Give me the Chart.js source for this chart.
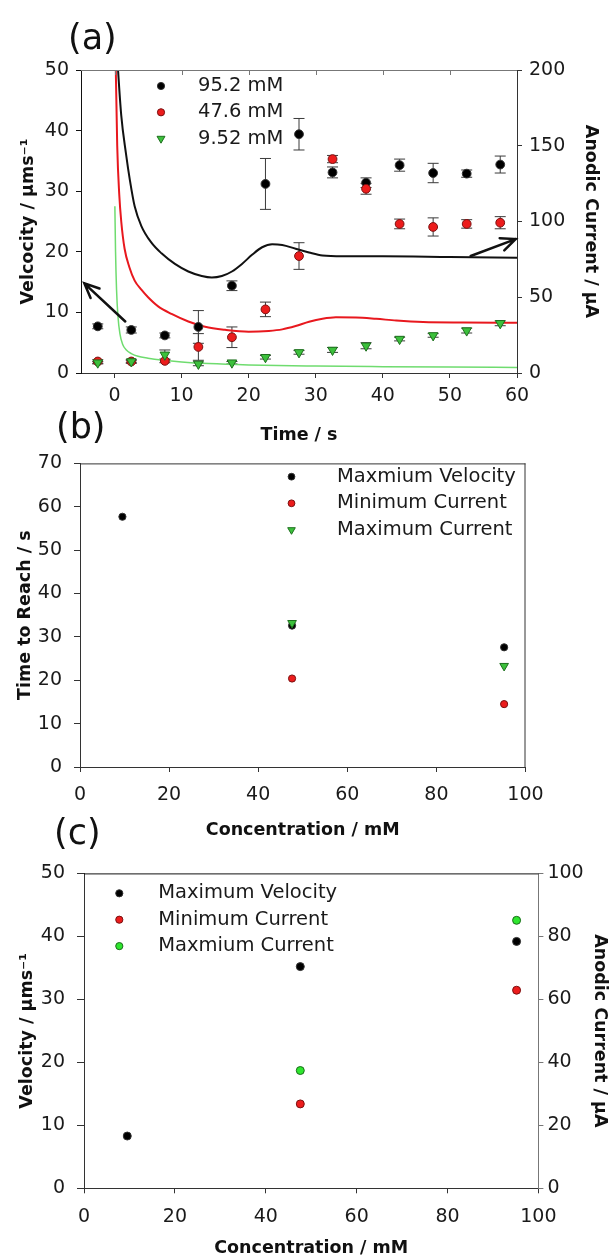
<!DOCTYPE html>
<html>
<head>
<meta charset="utf-8">
<script src="https://cdn.jsdelivr.net/npm/chart.js@4.4.1/dist/chart.umd.min.js"></script>
<style>
  body { margin: 0; background: #fff; }
  #page { position: relative; width: 613px; height: 1259px; overflow: hidden; }
  canvas { position: absolute; left: 0; }
  .tag { position: absolute; font-family: 'DejaVu Sans', sans-serif; font-size: 35px; line-height: 1; color: #111; z-index: 5; }
</style>
</head>
<body>
<div id="page">
  <canvas id="chartA" width="613" height="450" style="top:0px"></canvas>
  <canvas id="chartB" width="613" height="410" style="top:440px"></canvas>
  <canvas id="chartC" width="613" height="409" style="top:850px"></canvas>
  <div class="tag" style="left:68px; top:20px">(a)</div>
  <div class="tag" style="left:56px; top:409px">(b)</div>
  <div class="tag" style="left:54px; top:815px">(c)</div>
</div>
<script>
// ---- (a) velocity vs time, with error bars
const timeA = [-2.5, 2.5, 7.5, 12.5, 17.5, 22.5, 27.5, 32.5, 37.5, 42.5, 47.5, 52.5, 57.5];
const vel95 = [7.7, 7.1, 6.2, 7.6, 14.4, 31.2, 39.4, 33.1, 31.4, 34.3, 33.0, 32.9, 34.4];
const err95 = [0.4, 0.5, 0.4, 2.7, 0.8, 4.2, 2.6, 0.9, 0.8, 1.0, 1.6, 0.6, 1.4];
const vel47 = [1.9, 1.9, 2.0, 4.3, 5.9, 10.5, 19.3, 35.3, 30.4, 24.6, 24.1, 24.6, 24.8];
const err47 = [0.3, 0.3, 0.3, 2.2, 1.7, 1.2, 2.2, 0.6, 0.9, 0.8, 1.5, 0.7, 1.0];
const vel9 = [1.7, 1.9, 3.0, 1.5, 1.7, 2.6, 3.4, 3.8, 4.5, 5.6, 6.2, 7.0, 8.2];
const err9 = [0.2, 0.2, 0.8, 0.3, 0.2, 0.3, 0.3, 0.4, 0.5, 0.3, 0.3, 0.4, 0.4];

// (a) anodic current traces (right axis)
const curT95 = [0.3, 1.0, 1.7, 2.3, 3.0, 4.0, 5.5, 7.0, 9.0, 11.0, 13.0, 14.5, 16.0, 17.5, 19.0, 20.5, 22.0, 23.5, 25.0, 27.0, 29.0, 31.0, 34.0, 40.0, 50.0, 60.0];
const cur95 = [215, 170, 145, 127, 110, 97, 86, 79, 72, 67, 64, 63, 64, 67, 72, 78, 83, 85, 84.5, 82, 79.5, 77.5, 77, 77, 76.5, 76];
const curT47 = [0.15, 0.4, 0.7, 1.0, 1.5, 2.2, 3.0, 4.0, 5.0, 6.5, 8.5, 11.0, 13.5, 16.5, 20.0, 23.0, 25.0, 27.0, 29.0, 31.0, 33.0, 36.0, 39.0, 42.0, 46.0, 52.0, 60.0];
const cur47 = [210, 150, 118, 100, 82, 70, 61, 55, 50, 44, 39, 34, 30.5, 28.5, 27.3, 27.8, 28.8, 31, 33.8, 35.8, 36.8, 36.7, 35.8, 34.6, 33.6, 33.3, 33.2];
const curT9 = [0.05, 0.15, 0.3, 0.5, 0.8, 1.2, 1.8, 2.5, 3.5, 5, 7, 10, 14, 20, 30, 40, 50, 60];
const cur9 = [110, 80, 55, 38, 26, 19, 15, 12.8, 11, 9.8, 8.6, 7.3, 6.2, 5.3, 4.6, 4.2, 3.9, 3.7];

// ---- (b) time to reach vs concentration
const concMaxVelB = [9.52, 47.6, 95.2];
const timeMaxVel = [57.7, 32.6, 27.6];
const concCurB = [47.6, 95.2];
const timeMinCur = [20.4, 14.5];
const timeMaxCur = [33.2, 23.3];

// ---- (c) values vs concentration
const concVelC = [9.52, 47.6, 95.2];
const maxVel = [8.3, 35.2, 39.2];
const concCurC = [47.6, 95.2];
const minCur = [26.8, 62.9];
const maxCur = [37.4, 85.1];

const FONT = "'DejaVu Sans', sans-serif";
const pts = (xs, ys) => xs.map((x, i) => ({ x: x, y: ys[i] }));

function drawMarker(ctx, ds, x, y, r) {
  ctx.beginPath();
  if (ds.pointStyle === 'triangle') {
    let rad = (ds.pointRotation || 0) * Math.PI / 180;
    for (let k = 0; k < 3; k++) {
      const px = x + Math.sin(rad) * r, py = y - Math.cos(rad) * r;
      if (k) ctx.lineTo(px, py); else ctx.moveTo(px, py);
      rad += 2 * Math.PI / 3;
    }
    ctx.closePath();
  } else {
    ctx.arc(x, y, r, 0, 2 * Math.PI);
  }
  ctx.fillStyle = ds.pointBackgroundColor;
  ctx.fill();
  ctx.lineWidth = 1;
  ctx.strokeStyle = ds.pointBorderColor;
  ctx.stroke();
}

const errorBars = {
  id: 'errorBars',
  beforeDatasetsDraw(chart) {
    const ctx = chart.ctx;
    ctx.save();
    ctx.strokeStyle = '#3a3a3a';
    ctx.lineWidth = 1;
    chart.data.datasets.forEach((ds, i) => {
      if (!ds.errors) return;
      const meta = chart.getDatasetMeta(i);
      const ys = chart.scales[meta.yAxisID];
      meta.data.forEach((p, j) => {
        const v = ds.data[j].y, e = ds.errors[j];
        const top = ys.getPixelForValue(v + e), bot = ys.getPixelForValue(v - e);
        ctx.beginPath();
        ctx.moveTo(p.x, top); ctx.lineTo(p.x, bot);
        ctx.moveTo(p.x - 5.5, top); ctx.lineTo(p.x + 5.5, top);
        ctx.moveTo(p.x - 5.5, bot); ctx.lineTo(p.x + 5.5, bot);
        ctx.stroke();
      });
    });
    ctx.restore();
  }
};

const frame = {
  id: 'frame',
  afterDraw(chart, args, opts) {
    const ctx = chart.ctx, a = chart.chartArea;
    ctx.save();
    ctx.lineWidth = 1;
    if (opts.top) {
      ctx.strokeStyle = opts.top;
      ctx.beginPath(); ctx.moveTo(a.left, a.top + 0.5); ctx.lineTo(a.right, a.top + 0.5); ctx.stroke();
    }
    if (opts.right) {
      ctx.strokeStyle = opts.right;
      ctx.beginPath(); ctx.moveTo(a.right - 0.5, a.top); ctx.lineTo(a.right - 0.5, a.bottom); ctx.stroke();
    }
    if (opts.topTicks) {
      const xs = chart.scales.x;
      ctx.strokeStyle = opts.top;
      xs.ticks.forEach(t => {
        const px = Math.round(xs.getPixelForValue(t.value)) + 0.5;
        if (px > a.left + 2 && px < a.right - 2) {
          ctx.beginPath(); ctx.moveTo(px, a.top); ctx.lineTo(px, a.top + 5); ctx.stroke();
        }
      });
    }
    ctx.restore();
  }
};

const arrows = {
  id: 'arrows',
  afterDatasetsDraw(chart, args, opts) {
    if (!opts.list) return;
    const ctx = chart.ctx, xs = chart.scales.x, ys = chart.scales.y;
    ctx.save();
    ctx.strokeStyle = '#111';
    ctx.lineWidth = 2.5;
    ctx.lineCap = 'round';
    opts.list.forEach(ar => {
      const x0 = xs.getPixelForValue(ar.from[0]), y0 = ys.getPixelForValue(ar.from[1]);
      const x1 = xs.getPixelForValue(ar.to[0]), y1 = ys.getPixelForValue(ar.to[1]);
      const ang = Math.atan2(y1 - y0, x1 - x0);
      ctx.beginPath();
      ctx.moveTo(x0, y0); ctx.lineTo(x1, y1);
      ctx.moveTo(x1 - 16 * Math.cos(ang - 0.42), y1 - 16 * Math.sin(ang - 0.42));
      ctx.lineTo(x1, y1);
      ctx.lineTo(x1 - 16 * Math.cos(ang + 0.42), y1 - 16 * Math.sin(ang + 0.42));
      ctx.stroke();
    });
    ctx.restore();
  }
};

const markerLegend = {
  id: 'markerLegend',
  afterDraw(chart, args, opts) {
    if (!opts.items) return;
    const ctx = chart.ctx;
    ctx.save();
    ctx.textBaseline = 'middle';
    opts.items.forEach((idx, i) => {
      const ds = chart.data.datasets[idx];
      const y = opts.y + i * opts.gap;
      drawMarker(ctx, ds, opts.markerX, y, ds.pointStyle === 'triangle' ? opts.radius + 1 : opts.radius);
      ctx.font = '19.5px ' + FONT;
      ctx.fillStyle = '#1a1a1a';
      ctx.fillText(ds.label, opts.textX, y);
    });
    ctx.restore();
  }
};

function axis(opts) {
  const o = {
    type: 'linear',
    position: opts.position,
    min: opts.min,
    max: opts.max,
    border: { color: opts.borderColor || '#333', width: 1 },
    grid: { drawOnChartArea: false, drawTicks: true, tickLength: opts.tickLength || 5, color: opts.borderColor || '#333' },
    ticks: { stepSize: opts.step, padding: opts.padding, color: '#1a1a1a', font: { family: FONT, size: 19 } },
    title: {
      display: true, text: opts.title, color: '#111',
      font: { family: FONT, size: 17.5, weight: 'bold' },
      padding: opts.titlePad
    },
    afterFit: s => {
      if (opts.size == null) return;
      if (s.isHorizontal()) s.height = opts.size; else s.width = opts.size;
    }
  };
  if (opts.afterBuildTicks) o.afterBuildTicks = opts.afterBuildTicks;
  return o;
}

function baseOptions(padding, scales, plugins) {
  return {
    responsive: false,
    animation: false,
    devicePixelRatio: 1,
    events: [],
    layout: { padding: padding },
    scales: scales,
    plugins: Object.assign({ legend: { display: false }, tooltip: { enabled: false } }, plugins)
  };
}

// ---------- chart (a)
new Chart(document.getElementById('chartA'), {
  type: 'scatter',
  data: {
    datasets: [
      { label: '9.52 mM', data: pts(timeA, vel9), errors: err9, yAxisID: 'y',
        pointStyle: 'triangle', pointRotation: 180, pointRadius: 5.5,
        pointBackgroundColor: '#3cc03c', pointBorderColor: '#1d6f1d', pointBorderWidth: 1 },
      { label: '47.6 mM', data: pts(timeA, vel47), errors: err47, yAxisID: 'y',
        pointRadius: 4.4, pointBackgroundColor: '#ec1c1c', pointBorderColor: '#7a1010', pointBorderWidth: 1 },
      { label: '95.2 mM', data: pts(timeA, vel95), errors: err95, yAxisID: 'y',
        pointRadius: 4.4, pointBackgroundColor: '#000', pointBorderColor: '#333', pointBorderWidth: 1 },
      { label: 'i 95.2', data: pts(curT95, cur95), yAxisID: 'y2', showLine: true, pointRadius: 0,
        borderColor: '#111', borderWidth: 2, cubicInterpolationMode: 'monotone' },
      { label: 'i 47.6', data: pts(curT47, cur47), yAxisID: 'y2', showLine: true, pointRadius: 0,
        borderColor: '#e8181e', borderWidth: 2, cubicInterpolationMode: 'monotone' },
      { label: 'i 9.52', data: pts(curT9, cur9), yAxisID: 'y2', showLine: true, pointRadius: 0,
        borderColor: '#6fdc6f', borderWidth: 1.5, cubicInterpolationMode: 'monotone' }
    ]
  },
  options: baseOptions(
    { top: 70, right: 10, left: 0, bottom: 0 },
    {
      x: axis({ position: 'bottom', min: -5, max: 60, step: 10, padding: 7, size: 77,
        title: 'Time / s', titlePad: { top: 0, bottom: 4.5 },
        afterBuildTicks: s => { s.ticks = s.ticks.filter(t => t.value >= 0); } }),
      y: axis({ position: 'left', min: 0, max: 50, step: 10, padding: 7, size: 81, borderColor: '#111',
        title: 'Velcocity / µms⁻¹', titlePad: { top: 18, bottom: 0 } }),
      y2: axis({ position: 'right', min: 0, max: 200, step: 50, padding: 7, size: 86,
        title: 'Anodic Current / µA', titlePad: { top: 2, bottom: 0 } })
    },
    {
      frame: { top: '#777', topTicks: true },
      arrows: { list: [ { from: [1.6, 8.5], to: [-4.5, 14.8] }, { from: [53.1, 19.3], to: [59.8, 22.1] } ] },
      markerLegend: { items: [2, 1, 0], markerX: 161, textX: 198, y: 86, gap: 26.3, radius: 3.6 }
    }
  ),
  plugins: [errorBars, frame, arrows, markerLegend]
});

// ---------- chart (b)
new Chart(document.getElementById('chartB'), {
  type: 'scatter',
  data: {
    datasets: [
      { label: 'Maximum Current', data: pts(concCurB, timeMaxCur),
        pointStyle: 'triangle', pointRotation: 180, pointRadius: 5,
        pointBackgroundColor: '#3cc03c', pointBorderColor: '#1d6f1d', pointBorderWidth: 1 },
      { label: 'Minimum Current', data: pts(concCurB, timeMinCur),
        pointRadius: 3.6, pointBackgroundColor: '#ec1c1c', pointBorderColor: '#7a1010', pointBorderWidth: 1 },
      { label: 'Maxmium Velocity', data: pts(concMaxVelB, timeMaxVel),
        pointRadius: 3.6, pointBackgroundColor: '#000', pointBorderColor: '#333', pointBorderWidth: 1 }
    ]
  },
  options: baseOptions(
    { top: 15.5, right: 87.5, left: 0, bottom: 0 },
    {
      x: axis({ position: 'bottom', min: 0, max: 100, step: 20, padding: 12, size: 83,
        title: 'Concentration / mM', titlePad: { top: 0, bottom: 9.5 } }),
      y: axis({ position: 'left', min: 0, max: 70, step: 10, padding: 12, size: 80, tickLength: 6,
        title: 'Time to Reach / s', titlePad: { top: 15, bottom: 0 } })
    },
    {
      frame: { top: '#333', right: '#333' },
      markerLegend: { items: [2, 1, 0], markerX: 291.5, textX: 337, y: 36.7, gap: 26.6, radius: 3.4 }
    }
  ),
  plugins: [frame, markerLegend]
});

// ---------- chart (c)
new Chart(document.getElementById('chartC'), {
  type: 'scatter',
  data: {
    datasets: [
      { label: 'Maxmium Current', data: pts(concCurC, maxCur), yAxisID: 'y2',
        pointRadius: 4, pointBackgroundColor: '#2ee62e', pointBorderColor: '#1a6a1a', pointBorderWidth: 1 },
      { label: 'Minimum Current', data: pts(concCurC, minCur), yAxisID: 'y2',
        pointRadius: 4, pointBackgroundColor: '#ec1c1c', pointBorderColor: '#7a1010', pointBorderWidth: 1 },
      { label: 'Maximum Velocity', data: pts(concVelC, maxVel), yAxisID: 'y',
        pointRadius: 4, pointBackgroundColor: '#000', pointBorderColor: '#333', pointBorderWidth: 1 }
    ]
  },
  options: baseOptions(
    { top: 20, right: 0, left: 0, bottom: 0 },
    {
      x: axis({ position: 'bottom', min: 0, max: 100, step: 20, padding: 12, size: 70.7,
        title: 'Concentration / mM', titlePad: { top: 0, bottom: 0 } }),
      y: axis({ position: 'left', min: 0, max: 50, step: 10, padding: 12, size: 84, tickLength: 7,
        title: 'Velocity / µms⁻¹', titlePad: { top: 16.5, bottom: 0 } }),
      y2: axis({ position: 'right', min: 0, max: 100, step: 20, padding: 4, size: 74.6, borderColor: '#777',
        title: 'Anodic Current / µA', titlePad: { top: 2.5, bottom: 0 } })
    },
    {
      frame: { top: '#111' },
      markerLegend: { items: [2, 1, 0], markerX: 119.3, textX: 158.3, y: 43.3, gap: 26.4, radius: 3.6 }
    }
  ),
  plugins: [frame, markerLegend]
});
</script>
</body>
</html>
